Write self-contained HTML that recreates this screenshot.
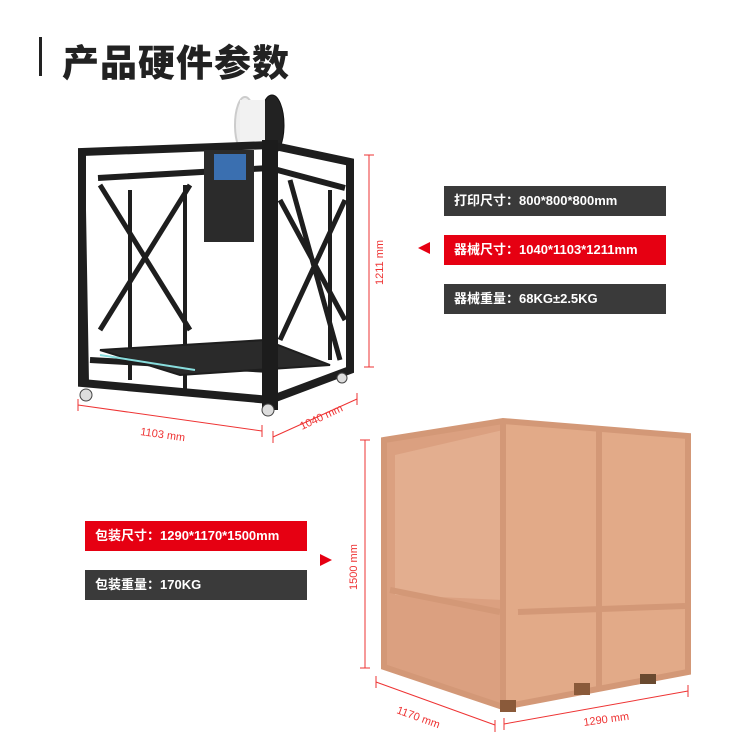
<!DOCTYPE html>
<html><head><meta charset="utf-8"><style>
body{margin:0;width:750px;height:750px;background:#fff;position:relative;overflow:hidden;font-family:"Liberation Sans","Noto Sans CJK SC",sans-serif}
.t{position:absolute;left:62px;top:33px;font-size:37px;font-weight:900;color:#222;letter-spacing:1px;font-family:"Noto Sans CJK SC",sans-serif}
.bar{position:absolute;left:39px;top:37px;width:3px;height:39px;background:#222}
.b{position:absolute;height:30px;color:#fff;font-size:13px;font-weight:bold;line-height:30px;padding-left:10px;box-sizing:border-box;font-family:"Liberation Sans","Noto Sans CJK SC",sans-serif}
.d{background:#3a3a3a}.r{background:#e60012}
svg{position:absolute;left:0;top:0}
</style></head><body>
<div class="bar"></div><div class="t">产品硬件参数</div>
<svg width="750" height="750">
<g stroke="#1e1e1e" fill="none">
<ellipse cx="245" cy="125" rx="10" ry="28" fill="#eee" stroke="#ccc" stroke-width="2"/>
<ellipse cx="272" cy="125" rx="12" ry="30" fill="#222" stroke="#111"/>
<rect x="240" y="100" width="25" height="50" fill="#f2f2f2" stroke="none"/>
<path d="M82 152 L270 145 L350 162 L350 370 L270 400 L82 383 Z" stroke-width="8"/>
<path d="M82 152 L86 383 M98 178 L270 168 M270 168 L345 188 M90 360 L270 370" stroke-width="6"/>
<path d="M100 185 L190 330 M190 185 L100 330 M280 200 L345 320 M345 200 L280 340 M290 180 L340 360" stroke-width="5"/>
<path d="M185 185 L185 390 M130 190 L130 380 M330 190 L330 360" stroke-width="4"/>
<path d="M100 350 L265 340 L330 365 L180 375 Z" fill="#2a2a2a" stroke-width="2"/>
<path d="M100 355 L195 370" stroke="#8dd" stroke-width="2"/>
<rect x="204" y="150" width="50" height="92" fill="#2b2b2b" stroke="none"/>
<rect x="214" y="154" width="32" height="26" fill="#3a6fb0" stroke="none"/>
<rect x="262" y="140" width="16" height="270" fill="#1c1c1c" stroke="none"/>
<circle cx="86" cy="395" r="6" fill="#ddd" stroke="#444"/>
<circle cx="268" cy="410" r="6" fill="#ddd" stroke="#444"/>
<circle cx="342" cy="378" r="5" fill="#ddd" stroke="#444"/>
</g>
<polygon points="384,440 503,421 503,707 384,667" fill="#dba080"/>
<polygon points="503,421 688,436 688,672 503,707" fill="#e2aa88"/>
<polygon points="395,455 503,430 503,600 395,595" fill="#ecbb9e" opacity=".5"/>
<g stroke="#d39877" stroke-width="6" fill="none">
<path d="M384,440 L503,421 L688,436 L688,672 L503,707 L384,667 Z"/>
<path d="M503,421 L503,707 M599,430 L599,690 M518,612 L685,606 M390,590 L500,612"/>
</g>
<rect x="500" y="700" width="16" height="12" fill="#8a5a3a"/>
<rect x="574" y="683" width="16" height="12" fill="#8a5a3a"/>
<rect x="640" y="674" width="16" height="10" fill="#6a4a30"/>
<g stroke="#e33" stroke-width="1" fill="none">
<path d="M369 155 L369 367 M364 155 L374 155 M364 367 L374 367"/>
<path d="M78 405 L262 431 M78 399 L78 411 M262 425 L262 437"/>
<path d="M273 437 L357 399 M273 431 L273 443 M357 393 L357 405"/>
<path d="M365 440 L365 668 M360 440 L370 440 M360 668 L370 668"/>
<path d="M376 682 L495 725 M376 676 L376 688 M495 720 L495 732"/>
<path d="M504 724 L688 691 M504 718 L504 730 M688 685 L688 697"/>
</g>
<g fill="#e33" font-size="11" font-family="Liberation Sans,sans-serif">
<text x="383" y="285" transform="rotate(-90 383 285)">1211 mm</text>
<text x="140" y="435" transform="rotate(8 140 435)">1103 mm</text>
<text x="302" y="430" transform="rotate(-25 302 430)">1040 mm</text>
<text x="357" y="590" transform="rotate(-90 357 590)">1500 mm</text>
<text x="396" y="713" transform="rotate(20 396 713)">1170 mm</text>
<text x="584" y="726" transform="rotate(-8 584 726)">1290 mm</text>
</g>
<polygon points="418,248 430,242 430,254" fill="#e60012"/>
<polygon points="332,560 320,554 320,566" fill="#e60012"/>
</svg>
<div class="b d" style="left:444px;top:186px;width:222px">打印尺寸：800*800*800mm</div>
<div class="b r" style="left:444px;top:235px;width:222px">器械尺寸：1040*1103*1211mm</div>
<div class="b d" style="left:444px;top:284px;width:222px">器械重量：68KG±2.5KG</div>
<div class="b r" style="left:85px;top:521px;width:222px">包装尺寸：1290*1170*1500mm</div>
<div class="b d" style="left:85px;top:570px;width:222px">包装重量：170KG</div>
</body></html>
